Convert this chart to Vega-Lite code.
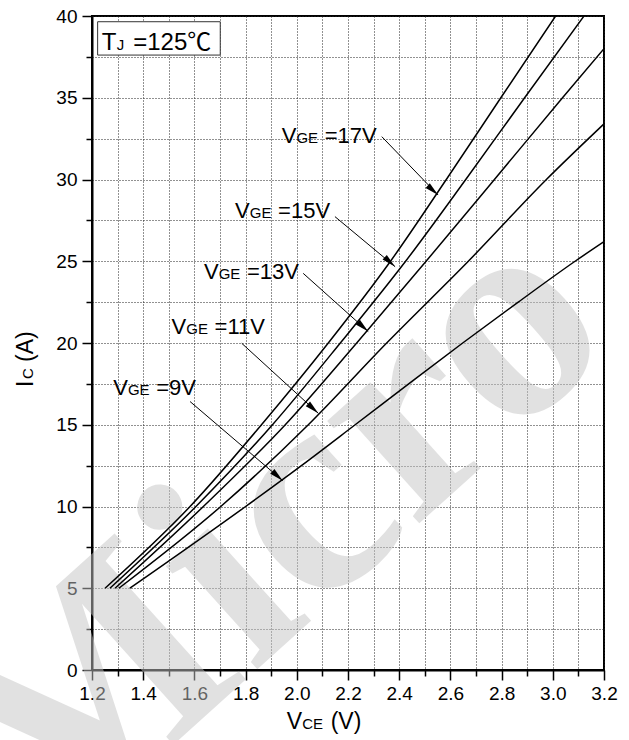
{
  "$schema": "https://vega.github.io/schema/vega-lite/v6.json",
  "width": 512,
  "height": 654,
  "autosize": {"type": "none"},
  "padding": {"left": 92, "top": 16, "right": 25, "bottom": 70},
  "background": "white",
  "config": {"view": {"stroke": "black", "strokeWidth": 2}, "font": "Liberation Sans"},
  "datasets": {
    "watermark": [{"text": "Micro", "x": 2.133, "y": 4.1}],
    "curves": [
      {"s": "17V", "x": 1.251, "y": 5}, {"s": "17V", "x": 1.583, "y": 10}, {"s": "17V", "x": 1.862, "y": 15}, {"s": "17V", "x": 2.123, "y": 20}, {"s": "17V", "x": 2.366, "y": 25}, {"s": "17V", "x": 2.584, "y": 30}, {"s": "17V", "x": 2.797, "y": 35}, {"s": "17V", "x": 3.011, "y": 40},
      {"s": "15V", "x": 1.270, "y": 5}, {"s": "15V", "x": 1.606, "y": 10}, {"s": "15V", "x": 1.905, "y": 15}, {"s": "15V", "x": 2.170, "y": 20}, {"s": "15V", "x": 2.425, "y": 25}, {"s": "15V", "x": 2.660, "y": 30}, {"s": "15V", "x": 2.890, "y": 35}, {"s": "15V", "x": 3.122, "y": 40},
      {"s": "13V", "x": 1.290, "y": 5}, {"s": "13V", "x": 1.635, "y": 10}, {"s": "13V", "x": 1.955, "y": 15}, {"s": "13V", "x": 2.234, "y": 20}, {"s": "13V", "x": 2.505, "y": 25}, {"s": "13V", "x": 2.772, "y": 30}, {"s": "13V", "x": 3.038, "y": 35}, {"s": "13V", "x": 3.2, "y": 38.0},
      {"s": "11V", "x": 1.305, "y": 5}, {"s": "11V", "x": 1.703, "y": 10}, {"s": "11V", "x": 2.045, "y": 15}, {"s": "11V", "x": 2.351, "y": 20}, {"s": "11V", "x": 2.670, "y": 25}, {"s": "11V", "x": 2.975, "y": 30}, {"s": "11V", "x": 3.2, "y": 33.4},
      {"s": "9V", "x": 1.348, "y": 5}, {"s": "9V", "x": 1.800, "y": 10}, {"s": "9V", "x": 2.018, "y": 12.5}, {"s": "9V", "x": 2.228, "y": 15}, {"s": "9V", "x": 2.437, "y": 17.5}, {"s": "9V", "x": 2.648, "y": 20}, {"s": "9V", "x": 2.865, "y": 22.5}, {"s": "9V", "x": 3.087, "y": 25}, {"s": "9V", "x": 3.2, "y": 26.2}
    ],
    "labels": [
      {"main": "V", "sub": "GE", "rest": "=17V", "x": 1.941, "y": 32.21},
      {"main": "V", "sub": "GE", "rest": "=15V", "x": 1.759, "y": 27.62},
      {"main": "V", "sub": "GE", "rest": "=13V", "x": 1.6375, "y": 23.9},
      {"main": "V", "sub": "GE", "rest": "=11V", "x": 1.511, "y": 20.53},
      {"main": "V", "sub": "GE", "rest": "=9V", "x": 1.283, "y": 16.82}
    ],
    "arrows": [
      {"x": 2.332, "y": 32.62, "x2": 2.552, "y2": 29.05},
      {"x": 2.149, "y": 27.73, "x2": 2.384, "y2": 24.67},
      {"x": 2.025, "y": 24.26, "x2": 2.279, "y2": 20.7},
      {"x": 1.785, "y": 19.98, "x2": 2.084, "y2": 15.7},
      {"x": 1.583, "y": 16.42, "x2": 1.945, "y2": 11.58}
    ],
    "tjbox": [{"x": 1.222, "x2": 1.701, "y": 37.61, "y2": 39.65}],
    "tj": [{"main": "T", "sub": "J", "rest": "=125℃", "x": 1.238, "y": 37.92}],
    "ytitle": [{"main": "I", "sub": "C", "rest": "(A)", "x": 0.9707, "y": 17.31}],
    "xtitle": [{"main": "V", "sub": "CE", "rest": "(V)", "x": 1.9605, "y": -3.61}]
  },
  "encoding": {
    "x": {
      "field": "x", "type": "quantitative",
      "scale": {"domain": [1.2, 3.2], "nice": false, "zero": false},
      "axis": {
        "title": null,
        "values": [1.2, 1.3, 1.4, 1.5, 1.6, 1.7, 1.8, 1.9, 2.0, 2.1, 2.2, 2.3, 2.4, 2.5, 2.6, 2.7, 2.8, 2.9, 3.0, 3.1, 3.2],
        "format": ".1f",
        "labelExpr": "round(datum.value*10) % 2 === 0 ? datum.label : ''",
        "labelFont": "Liberation Sans", "labelFontSize": 19, "labelColor": "black",
        "labelPadding": 4, "labelFlush": false, "labelOverlap": false,
        "domainColor": "black", "domainWidth": 2,
        "tickColor": "black", "tickWidth": 1.5,
        "tickSize": {"condition": {"test": "round(datum.value*10) % 2 === 0", "value": 10}, "value": 6},
        "grid": true, "gridColor": "#222", "gridDash": [1, 2], "gridWidth": 1
      }
    },
    "y": {
      "field": "y", "type": "quantitative",
      "scale": {"domain": [0, 40], "nice": false, "zero": false},
      "axis": {
        "title": null,
        "values": [0, 2.5, 5, 7.5, 10, 12.5, 15, 17.5, 20, 22.5, 25, 27.5, 30, 32.5, 35, 37.5, 40],
        "labelExpr": "datum.value % 5 === 0 ? datum.label : ''",
        "labelFont": "Liberation Sans", "labelFontSize": 19, "labelColor": "black",
        "labelPadding": 5, "labelFlush": false, "labelOverlap": false,
        "domainColor": "black", "domainWidth": 2,
        "tickColor": "black", "tickWidth": 1.5,
        "tickSize": {"condition": {"test": "datum.value % 5 === 0", "value": 10}, "value": 6},
        "grid": true, "gridColor": "#222", "gridDash": [1, 2], "gridWidth": 1
      }
    }
  },
  "layer": [
    {
      "data": {"name": "watermark"},
      "mark": {"type": "text", "align": "center", "baseline": "alphabetic", "angle": -42, "fontSize": 300, "fontWeight": "bold", "font": "Liberation Serif", "color": "#c4c4c4", "opacity": 0.5},
      "encoding": {"text": {"field": "text"}}
    },
    {
      "data": {"name": "curves"},
      "mark": {"type": "line", "color": "black", "strokeWidth": 1.5, "interpolate": "monotone", "clip": true},
      "encoding": {"detail": {"field": "s", "type": "nominal"}}
    },
    {
      "data": {"name": "arrows"},
      "mark": {"type": "rule", "color": "black", "strokeWidth": 1},
      "encoding": {"x2": {"field": "x2"}, "y2": {"field": "y2"}}
    },
    {
      "data": {"name": "arrows"},
      "mark": {"type": "point", "shape": "M0,0L0.45,2L-0.45,2Z", "filled": true, "color": "black", "opacity": 1, "size": 196, "angle": 132},
      "encoding": {"x": {"field": "x2", "type": "quantitative"}, "y": {"field": "y2", "type": "quantitative"}}
    },
    {
      "data": {"name": "labels"},
      "mark": {"type": "text", "align": "left", "baseline": "alphabetic", "fontSize": 22, "font": "Liberation Sans", "color": "black"},
      "encoding": {"text": {"field": "main"}}
    },
    {
      "data": {"name": "labels"},
      "mark": {"type": "text", "align": "left", "baseline": "alphabetic", "fontSize": 15, "dx": 14.7, "font": "Liberation Sans", "color": "black"},
      "encoding": {"text": {"field": "sub"}}
    },
    {
      "data": {"name": "labels"},
      "mark": {"type": "text", "align": "left", "baseline": "alphabetic", "fontSize": 22, "dx": 43, "font": "Liberation Sans", "color": "black"},
      "encoding": {"text": {"field": "rest"}}
    },
    {
      "data": {"name": "tjbox"},
      "mark": {"type": "rect", "fill": "white", "stroke": "#333", "strokeWidth": 1},
      "encoding": {"x2": {"field": "x2"}, "y2": {"field": "y2"}}
    },
    {
      "data": {"name": "tj"},
      "mark": {"type": "text", "align": "left", "baseline": "alphabetic", "fontSize": 24, "font": "Liberation Sans", "color": "black"},
      "encoding": {"text": {"field": "main"}}
    },
    {
      "data": {"name": "tj"},
      "mark": {"type": "text", "align": "left", "baseline": "alphabetic", "fontSize": 15, "dx": 15, "font": "Liberation Sans", "color": "black"},
      "encoding": {"text": {"field": "sub"}}
    },
    {
      "data": {"name": "tj"},
      "mark": {"type": "text", "align": "left", "baseline": "alphabetic", "fontSize": 24, "dx": 31.5, "font": "Liberation Sans, Noto Sans CJK SC", "color": "black"},
      "encoding": {"text": {"field": "rest"}}
    },
    {
      "data": {"name": "ytitle"},
      "mark": {"type": "text", "align": "left", "baseline": "alphabetic", "angle": 270, "fontSize": 23, "font": "Liberation Sans", "color": "black"},
      "encoding": {"text": {"field": "main"}}
    },
    {
      "data": {"name": "ytitle"},
      "mark": {"type": "text", "align": "left", "baseline": "alphabetic", "angle": 270, "fontSize": 15, "dx": 8, "font": "Liberation Sans", "color": "black"},
      "encoding": {"text": {"field": "sub"}}
    },
    {
      "data": {"name": "ytitle"},
      "mark": {"type": "text", "align": "left", "baseline": "alphabetic", "angle": 270, "fontSize": 23, "dx": 25, "font": "Liberation Sans", "color": "black"},
      "encoding": {"text": {"field": "rest"}}
    },
    {
      "data": {"name": "xtitle"},
      "mark": {"type": "text", "align": "left", "baseline": "alphabetic", "fontSize": 23, "font": "Liberation Sans", "color": "black"},
      "encoding": {"text": {"field": "main"}}
    },
    {
      "data": {"name": "xtitle"},
      "mark": {"type": "text", "align": "left", "baseline": "alphabetic", "fontSize": 15, "dx": 15.5, "font": "Liberation Sans", "color": "black"},
      "encoding": {"text": {"field": "sub"}}
    },
    {
      "data": {"name": "xtitle"},
      "mark": {"type": "text", "align": "left", "baseline": "alphabetic", "fontSize": 23, "dx": 44, "font": "Liberation Sans", "color": "black"},
      "encoding": {"text": {"field": "rest"}}
    }
  ]
}
